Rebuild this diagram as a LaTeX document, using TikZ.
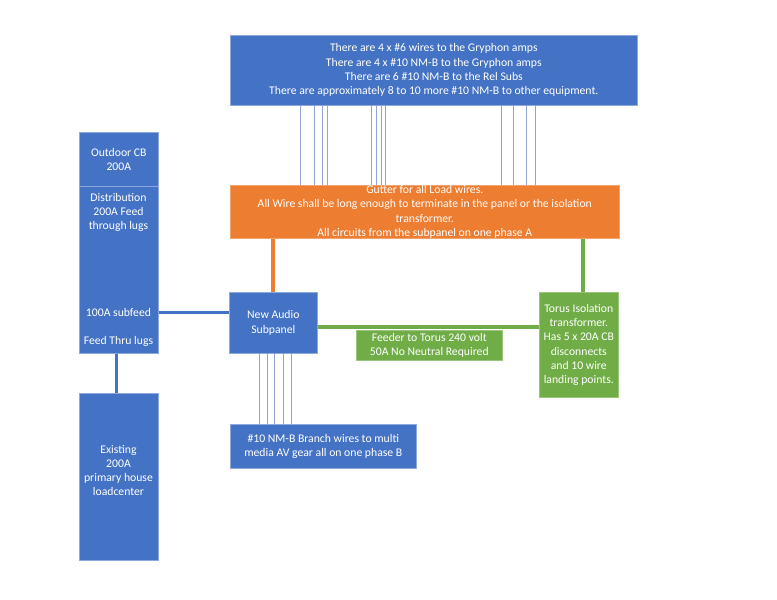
\documentclass[tikz,border=0pt]{standalone}
\usepackage{fontspec}
\setmainfont{Carlito}
\usetikzlibrary{calc}
\definecolor{oblue}{HTML}{4472C4}
\definecolor{oorange}{HTML}{ED7D31}
\definecolor{ogreen}{HTML}{70AD47}
\definecolor{bedge}{HTML}{8EA9DB}
\definecolor{wire}{HTML}{8FA6D4}
\begin{document}
\begin{tikzpicture}[x=1pt,y=-1pt,
  shp/.style={line width=0.6pt, inner sep=0pt, anchor=north west, text=white,
     align=center, font=\fontsize{11.7}{14.3}\selectfont},
  bluebox/.style={shp, fill=oblue, draw=bedge},
  orangebox/.style={shp, fill=oorange, draw=oorange!70!white},
  greenbox/.style={shp, fill=ogreen, draw=ogreen!70!white},
  wtxt/.style={text=white, align=center, inner sep=0pt, font=\fontsize{11.7}{14.3}\selectfont},
  wireline/.style={draw=wire, line width=0.8pt},
  bluecon/.style={draw=oblue, line width=3pt},
  orangecon/.style={draw=oorange, line width=4pt},
  greencon/.style={draw=ogreen, line width=4pt}]
\useasboundingbox[fill=white] (0,0) rectangle (777,600);

% boxes
\node[bluebox, minimum width=407pt, minimum height=70pt] (top) at (230,35)
  {There are 4 x \#6 wires to the Gryphon amps\\There are 4 x \#10 NM-B to the Gryphon amps\\There are 6 \#10 NM-B to the Rel Subs\\There are approximately 8 to 10 more \#10 NM-B to other equipment.};
\node[orangebox, minimum width=389pt, minimum height=53pt] (gutter) at (230,185)
  {Gutter for all Load wires.\\All Wire shall be long enough to terminate in the panel or the isolation\\transformer.\\All circuits from the subpanel on one phase A};
\node[bluebox, minimum width=79pt, minimum height=54pt] (outdoor) at (79,132)
  {Outdoor CB\\200A};
\node[bluebox, minimum width=79pt, minimum height=167pt] (dist) at (79,186) {};
\node[wtxt] (distt) at (118.5,212.5) {Distribution\\200A Feed\\through lugs};
\node[wtxt] (subfeed) at (118.5,312) {100A subfeed};
\node[wtxt] (thru) at (118.5,341) {Feed Thru lugs};
\node[bluebox, minimum width=79pt, minimum height=167pt] (load) at (79,393) {};
\node[wtxt] (loadt) at (118.5,470.5) {Existing\\200A\\primary house\\loadcenter};
\node[bluebox, minimum width=88pt, minimum height=61pt] (sub) at (229,292)
  {New Audio\\Subpanel};
\node[greenbox, minimum width=79pt, minimum height=105pt] (torus) at (539,292)
  {Torus Isolation\\transformer.\\Has 5 x 20A CB\\disconnects\\and 10 wire\\landing points.};
\node[greenbox, minimum width=146pt, minimum height=30pt] (feeder) at (356,330)
  {Feeder to Torus 240 volt\\50A No Neutral Required};
\node[bluebox, minimum width=186pt, minimum height=44pt] (branch) at (230,424)
  {\#10 NM-B Branch wires to multi\\media AV gear all on one phase B};

% wires from top box to gutter
\foreach \x [count=\i] in {300,314,322,327,371,376,381,385,501,513,526,535} {
  \coordinate (tw\i) at (\x,0);
  \draw[wireline] (top.south -| tw\i) -- (gutter.north -| tw\i);
}
% branch wires
\foreach \x [count=\i] in {259,267,274,283,291} {
  \coordinate (bw\i) at (\x,0);
  \draw[wireline] (sub.south -| bw\i) -- (branch.north -| bw\i);
}

% connectors
\draw[bluecon] (dist.east |- subfeed) -- (sub.west |- subfeed);
\draw[bluecon] ([xshift=-2.5pt]dist.south) -- ([xshift=-2.5pt]load.north);
\draw[orangecon] (gutter.south -| sub.north) -- (sub.north);
\coordinate (gs) at ([yshift=-4.5pt]sub.east);
\draw[greencon] (gs) -- (torus.west |- gs);
\coordinate (gx) at (583,0);
\draw[greencon] (gutter.south -| gx) -- (torus.north -| gx);
\end{tikzpicture}
\end{document}
